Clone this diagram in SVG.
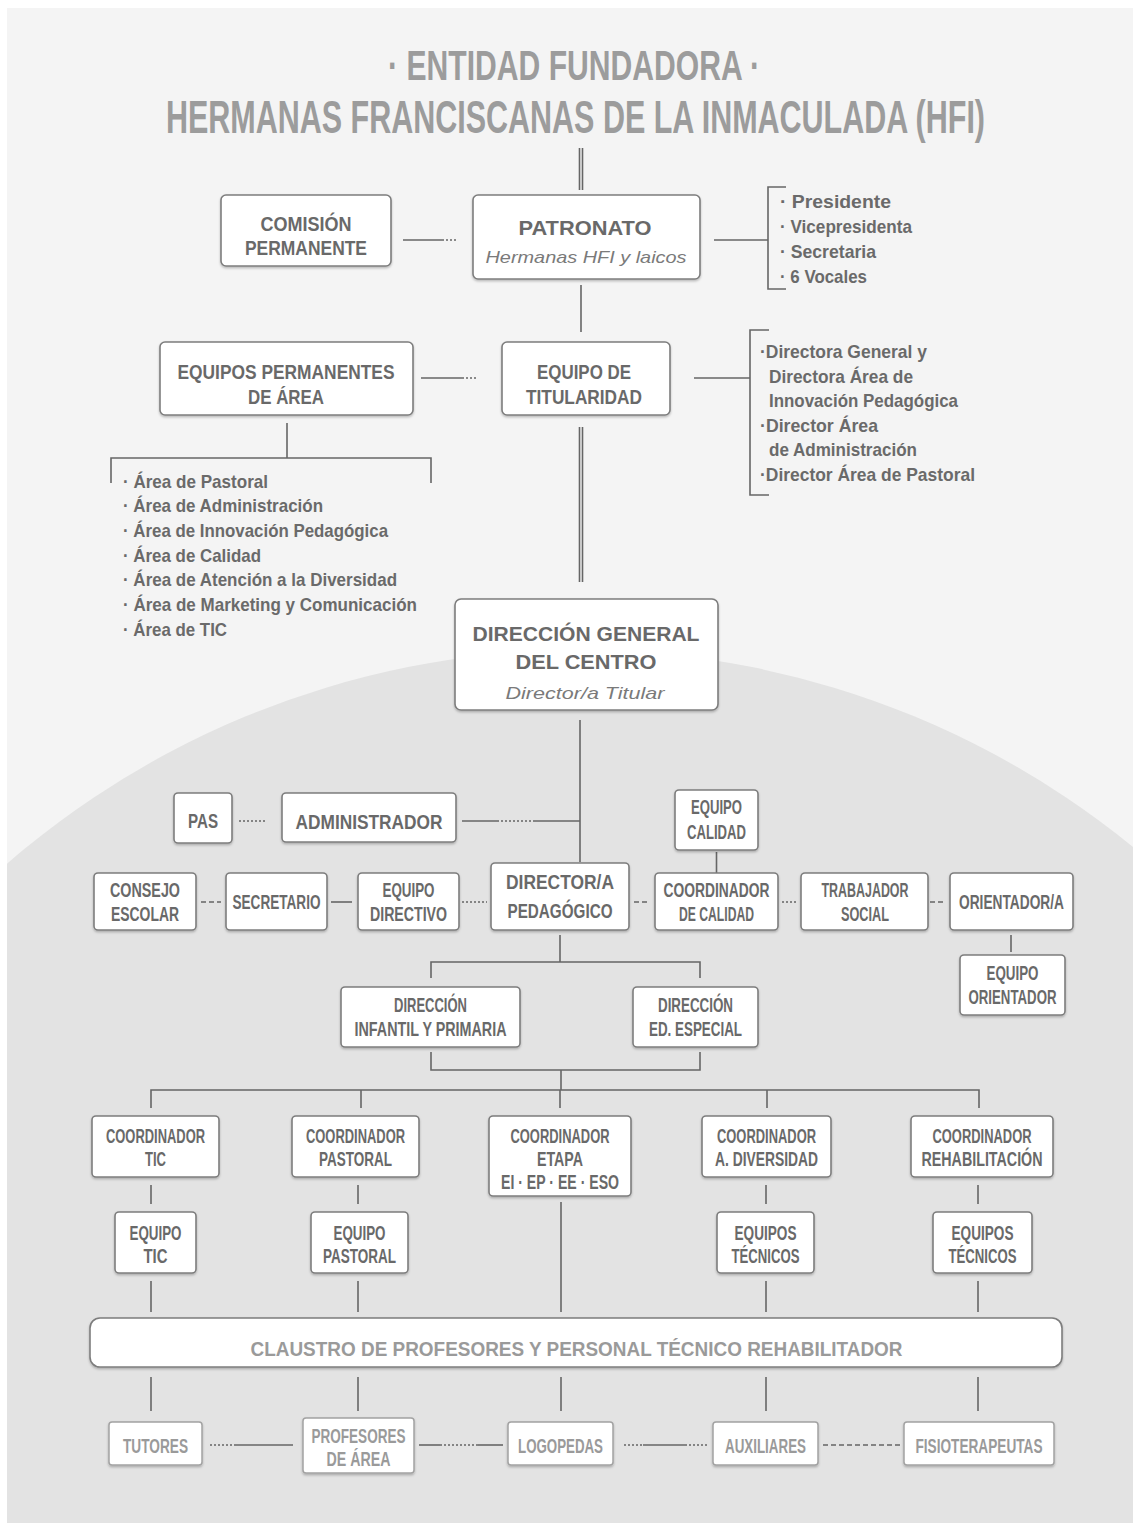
<svg xmlns="http://www.w3.org/2000/svg" width="1133" height="1523" viewBox="0 0 1133 1523">
<defs>
<clipPath id="panel"><rect x="7" y="8" width="1126" height="1515"/></clipPath>
<filter id="sh" x="-10%" y="-10%" width="120%" height="130%"><feDropShadow dx="0" dy="1.5" stdDeviation="1" flood-color="#000" flood-opacity="0.25"/></filter>
<style>
.box{fill:#fff;stroke:#7d7d7d;stroke-width:1.6;filter:url(#sh)}
.boxl{fill:#fff;stroke:#a2a2a2;stroke-width:1.5;filter:url(#sh)}
.t{font-family:"Liberation Sans",Arial,sans-serif;font-weight:bold;fill:#696969;text-anchor:middle;font-size:21px}
.tl{fill:#9a9a9a}
.it{font-family:"Liberation Sans",Arial,sans-serif;font-style:italic;font-weight:normal;fill:#7a7a7a;text-anchor:middle;font-size:17px}
.title{font-family:"Liberation Sans",Arial,sans-serif;font-weight:bold;fill:#9c9c9c;text-anchor:middle}
.lst{font-family:"Liberation Sans",Arial,sans-serif;font-weight:bold;fill:#6a6a6a;font-size:19px}
.ln{stroke:#666;stroke-width:1.6;fill:none}
.dot{stroke-dasharray:2 2}
.dsh{stroke-dasharray:5 3}
</style>
</defs>
<rect width="1133" height="1523" fill="#ffffff"/>
<g clip-path="url(#panel)">
<rect x="7" y="8" width="1126" height="1515" fill="#f4f4f4"/>
<circle cx="580" cy="1525" r="875" fill="#e3e3e3"/>
<rect x="0" y="1100" width="1133" height="423" fill="#e3e3e3"/>
</g>

<g id="title">
<text class="title" transform="translate(574,80) scale(0.8,1)" font-size="43" textLength="465" lengthAdjust="spacingAndGlyphs">· ENTIDAD FUNDADORA ·</text>
<text class="title" transform="translate(575.5,133) scale(0.75,1)" font-size="47" textLength="1092" lengthAdjust="spacingAndGlyphs">HERMANAS FRANCISCANAS DE LA INMACULADA (HFI)</text>
</g>

<g id="connectors">
<path class="ln" d="M579.5,148V190M582.5,148V190" stroke-width="1.3"/>
<path class="ln" d="M581,285V332"/>
<path class="ln" d="M403,240H442"/><path class="ln dot" d="M442,240H458"/>
<path class="ln" d="M714,240H768M786,187H768V289H786"/>
<path class="ln" d="M421,378H462"/><path class="ln dot" d="M462,378H476"/>
<path class="ln" d="M694,378H750M769,330H750V495H769"/>
<path class="ln" d="M287,423V458M111,483V458H431V483"/>
<path class="ln" d="M579.5,427V582M582.5,427V582" stroke-width="1.3"/>
<path class="ln" d="M580,720V862"/>
<path class="ln dot" d="M239,821H267"/>
<path class="ln" d="M462,821H497"/><path class="ln dot" d="M497,821H535"/><path class="ln" d="M535,821H580"/>
<path class="ln" d="M716.5,852V873"/>
<path class="ln dsh" d="M201,902H221"/>
<path class="ln" d="M331,902H352"/>
<path class="ln dot" d="M462,902H487"/>
<path class="ln dsh" d="M634,902H648"/>
<path class="ln dot" d="M782,902H796"/>
<path class="ln dsh" d="M930,902H946"/>
<path class="ln" d="M1011,935V952"/>
<path class="ln" d="M560,935V962M431,978V962H700V978"/>
<path class="ln" d="M431,1052V1070H700V1052M561,1070V1090"/>
<path class="ln" d="M151,1108V1090H979V1108M361,1090V1108M560,1090V1108M767,1090V1108"/>
<path class="ln" d="M151,1185V1204M358,1185V1204M766,1185V1204M978,1185V1204"/>
<path class="ln" d="M151,1281V1312M358,1281V1312M766,1281V1312M978,1281V1312M561,1202V1312"/>
<path class="ln" d="M151,1377V1411M358,1377V1411M561,1377V1411M766,1377V1411M978,1377V1411"/>
<path class="ln dot" d="M210,1445H236"/><path class="ln" d="M236,1445H293"/>
<path class="ln" d="M419,1445H440"/><path class="ln dot" d="M440,1445H478"/><path class="ln" d="M478,1445H503"/>
<path class="ln dot" d="M624,1445H643"/><path class="ln" d="M643,1445H685"/><path class="ln dot" d="M685,1445H707"/>
<path class="ln dsh" d="M823,1445H901"/>
</g>

<g id="list-patronato">
<text class="lst" x="780" y="208" textLength="111" lengthAdjust="spacingAndGlyphs">· Presidente</text>
<text class="lst" x="780" y="233" textLength="132" lengthAdjust="spacingAndGlyphs">· Vicepresidenta</text>
<text class="lst" x="780" y="258" textLength="96" lengthAdjust="spacingAndGlyphs">· Secretaria</text>
<text class="lst" x="780" y="283" textLength="87" lengthAdjust="spacingAndGlyphs">· 6 Vocales</text>
</g>
<g id="list-titularidad">
<text class="lst" x="760" y="358" textLength="167" lengthAdjust="spacingAndGlyphs">·Directora General y</text>
<text class="lst" x="769" y="383" textLength="144" lengthAdjust="spacingAndGlyphs">Directora Área de</text>
<text class="lst" x="769" y="407" textLength="189" lengthAdjust="spacingAndGlyphs">Innovación Pedagógica</text>
<text class="lst" x="760" y="432" textLength="118" lengthAdjust="spacingAndGlyphs">·Director Área</text>
<text class="lst" x="769" y="456" textLength="148" lengthAdjust="spacingAndGlyphs">de Administración</text>
<text class="lst" x="760" y="481" textLength="215" lengthAdjust="spacingAndGlyphs">·Director Área de Pastoral</text>
</g>
<g id="list-areas">
<text class="lst" x="123" y="488" textLength="145" lengthAdjust="spacingAndGlyphs">· Área de Pastoral</text>
<text class="lst" x="123" y="512" textLength="200" lengthAdjust="spacingAndGlyphs">· Área de Administración</text>
<text class="lst" x="123" y="537" textLength="265" lengthAdjust="spacingAndGlyphs">· Área de Innovación Pedagógica</text>
<text class="lst" x="123" y="562" textLength="138" lengthAdjust="spacingAndGlyphs">· Área de Calidad</text>
<text class="lst" x="123" y="586" textLength="274" lengthAdjust="spacingAndGlyphs">· Área de Atención a la Diversidad</text>
<text class="lst" x="123" y="611" textLength="294" lengthAdjust="spacingAndGlyphs">· Área de Marketing y Comunicación</text>
<text class="lst" x="123" y="636" textLength="104" lengthAdjust="spacingAndGlyphs">· Área de TIC</text>
</g>

<g id="comision"><rect class="box" x="221" y="195" width="170" height="71" rx="5"/>
<text class="t" x="306" y="231" font-size="23" textLength="91" lengthAdjust="spacingAndGlyphs">COMISIÓN</text>
<text class="t" x="306" y="255" font-size="23" textLength="122" lengthAdjust="spacingAndGlyphs">PERMANENTE</text></g>
<g id="patronato"><rect class="box" x="473" y="195" width="227" height="84" rx="5"/>
<text class="t" x="585" y="235" font-size="31" textLength="133" lengthAdjust="spacingAndGlyphs">PATRONATO</text>
<text class="it" x="586" y="263" textLength="201" lengthAdjust="spacingAndGlyphs">Hermanas HFI y laicos</text></g>
<g id="equipos-permanentes"><rect class="box" x="160" y="342" width="253" height="73" rx="5"/>
<text class="t" x="286" y="379" font-size="24" textLength="217" lengthAdjust="spacingAndGlyphs">EQUIPOS PERMANENTES</text>
<text class="t" x="286" y="404" font-size="24" textLength="76" lengthAdjust="spacingAndGlyphs">DE ÁREA</text></g>
<g id="equipo-titularidad"><rect class="box" x="502" y="342" width="168" height="73" rx="5"/>
<text class="t" x="584" y="379" font-size="24" textLength="94" lengthAdjust="spacingAndGlyphs">EQUIPO DE</text>
<text class="t" x="584" y="404" font-size="24" textLength="116" lengthAdjust="spacingAndGlyphs">TITULARIDAD</text></g>
<g id="direccion-general"><rect class="box" x="455" y="599" width="263" height="111" rx="6"/>
<text class="t" x="586" y="641" font-size="31" textLength="227" lengthAdjust="spacingAndGlyphs">DIRECCIÓN GENERAL</text>
<text class="t" x="586" y="669" font-size="31" textLength="141" lengthAdjust="spacingAndGlyphs">DEL CENTRO</text>
<text class="it" x="585" y="699" fill="#8a8a8a" textLength="159" lengthAdjust="spacingAndGlyphs">Director/a Titular</text></g>

<g id="pas"><rect class="box" x="174" y="793" width="58" height="50" rx="4"/>
<text class="t" x="203" y="828" font-size="22" textLength="30" lengthAdjust="spacingAndGlyphs">PAS</text></g>
<g id="administrador"><rect class="box" x="282" y="793" width="174" height="49" rx="4"/>
<text class="t" x="369" y="829" font-size="25" textLength="147" lengthAdjust="spacingAndGlyphs">ADMINISTRADOR</text></g>
<g id="equipo-calidad"><rect class="box" x="675" y="790" width="83" height="60" rx="4"/>
<text class="t" x="716.5" y="814" font-size="19" textLength="51" lengthAdjust="spacingAndGlyphs">EQUIPO</text>
<text class="t" x="716.5" y="839" font-size="19" textLength="59" lengthAdjust="spacingAndGlyphs">CALIDAD</text></g>
<g id="consejo-escolar"><rect class="box" x="94" y="873" width="102" height="57" rx="4"/>
<text class="t" x="145" y="897" textLength="70" lengthAdjust="spacingAndGlyphs">CONSEJO</text>
<text class="t" x="145" y="921" textLength="68" lengthAdjust="spacingAndGlyphs">ESCOLAR</text></g>
<g id="secretario"><rect class="box" x="226" y="873" width="101" height="57" rx="4"/>
<text class="t" x="276.5" y="909" textLength="88" lengthAdjust="spacingAndGlyphs">SECRETARIO</text></g>
<g id="equipo-directivo"><rect class="box" x="358" y="873" width="101" height="57" rx="4"/>
<text class="t" x="408.5" y="897" textLength="52" lengthAdjust="spacingAndGlyphs">EQUIPO</text>
<text class="t" x="408.5" y="921" textLength="77" lengthAdjust="spacingAndGlyphs">DIRECTIVO</text></g>
<g id="director-pedagogico"><rect class="box" x="491" y="863" width="138" height="67" rx="4"/>
<text class="t" x="560" y="889" font-size="24" textLength="108" lengthAdjust="spacingAndGlyphs">DIRECTOR/A</text>
<text class="t" x="560" y="918" font-size="24" textLength="105" lengthAdjust="spacingAndGlyphs">PEDAGÓGICO</text></g>
<g id="coordinador-calidad"><rect class="box" x="655" y="873" width="123" height="57" rx="4"/>
<text class="t" x="716.5" y="897" textLength="106" lengthAdjust="spacingAndGlyphs">COORDINADOR</text>
<text class="t" x="716.5" y="921" textLength="75" lengthAdjust="spacingAndGlyphs">DE CALIDAD</text></g>
<g id="trabajador-social"><rect class="box" x="801" y="873" width="127" height="57" rx="4"/>
<text class="t" x="865" y="897" textLength="87" lengthAdjust="spacingAndGlyphs">TRABAJADOR</text>
<text class="t" x="865" y="921" textLength="48" lengthAdjust="spacingAndGlyphs">SOCIAL</text></g>
<g id="orientador"><rect class="box" x="950" y="873" width="123" height="57" rx="4"/>
<text class="t" x="1011.5" y="909" textLength="105" lengthAdjust="spacingAndGlyphs">ORIENTADOR/A</text></g>
<g id="equipo-orientador"><rect class="box" x="960" y="955" width="105" height="60" rx="4"/>
<text class="t" x="1012.5" y="980" textLength="52" lengthAdjust="spacingAndGlyphs">EQUIPO</text>
<text class="t" x="1012.5" y="1004" textLength="88" lengthAdjust="spacingAndGlyphs">ORIENTADOR</text></g>
<g id="direccion-infantil"><rect class="box" x="341" y="987" width="179" height="60" rx="4"/>
<text class="t" x="430.5" y="1012" textLength="73" lengthAdjust="spacingAndGlyphs">DIRECCIÓN</text>
<text class="t" x="430.5" y="1036" textLength="152" lengthAdjust="spacingAndGlyphs">INFANTIL Y PRIMARIA</text></g>
<g id="direccion-especial"><rect class="box" x="633" y="987" width="125" height="60" rx="4"/>
<text class="t" x="695.5" y="1012" textLength="75" lengthAdjust="spacingAndGlyphs">DIRECCIÓN</text>
<text class="t" x="695.5" y="1036" textLength="93" lengthAdjust="spacingAndGlyphs">ED. ESPECIAL</text></g>

<g id="coord-tic"><rect class="box" x="92" y="1116" width="127" height="61" rx="4"/>
<text class="t" x="155.5" y="1143" textLength="99" lengthAdjust="spacingAndGlyphs">COORDINADOR</text>
<text class="t" x="155.5" y="1166" textLength="21" lengthAdjust="spacingAndGlyphs">TIC</text></g>
<g id="coord-pastoral"><rect class="box" x="292" y="1116" width="127" height="61" rx="4"/>
<text class="t" x="355.5" y="1143" textLength="99" lengthAdjust="spacingAndGlyphs">COORDINADOR</text>
<text class="t" x="355.5" y="1166" textLength="73" lengthAdjust="spacingAndGlyphs">PASTORAL</text></g>
<g id="coord-etapa"><rect class="box" x="489" y="1116" width="142" height="80" rx="4"/>
<text class="t" x="560" y="1143" textLength="99" lengthAdjust="spacingAndGlyphs">COORDINADOR</text>
<text class="t" x="560" y="1166" textLength="46" lengthAdjust="spacingAndGlyphs">ETAPA</text>
<text class="t" x="560" y="1189" textLength="118" lengthAdjust="spacingAndGlyphs">EI · EP · EE · ESO</text></g>
<g id="coord-diversidad"><rect class="box" x="702" y="1116" width="129" height="61" rx="4"/>
<text class="t" x="766.5" y="1143" textLength="99" lengthAdjust="spacingAndGlyphs">COORDINADOR</text>
<text class="t" x="766.5" y="1166" textLength="103" lengthAdjust="spacingAndGlyphs">A. DIVERSIDAD</text></g>
<g id="coord-rehabilitacion"><rect class="box" x="911" y="1116" width="142" height="61" rx="4"/>
<text class="t" x="982" y="1143" textLength="99" lengthAdjust="spacingAndGlyphs">COORDINADOR</text>
<text class="t" x="982" y="1166" textLength="121" lengthAdjust="spacingAndGlyphs">REHABILITACIÓN</text></g>

<g id="equipo-tic"><rect class="box" x="115" y="1212" width="81" height="61" rx="4"/>
<text class="t" x="155.5" y="1240" textLength="52" lengthAdjust="spacingAndGlyphs">EQUIPO</text>
<text class="t" x="155.5" y="1263" textLength="24" lengthAdjust="spacingAndGlyphs">TIC</text></g>
<g id="equipo-pastoral"><rect class="box" x="311" y="1212" width="97" height="61" rx="4"/>
<text class="t" x="359.5" y="1240" textLength="52" lengthAdjust="spacingAndGlyphs">EQUIPO</text>
<text class="t" x="359.5" y="1263" textLength="73" lengthAdjust="spacingAndGlyphs">PASTORAL</text></g>
<g id="equipos-tecnicos-1"><rect class="box" x="717" y="1212" width="97" height="61" rx="4"/>
<text class="t" x="765.5" y="1240" textLength="62" lengthAdjust="spacingAndGlyphs">EQUIPOS</text>
<text class="t" x="765.5" y="1263" textLength="68" lengthAdjust="spacingAndGlyphs">TÉCNICOS</text></g>
<g id="equipos-tecnicos-2"><rect class="box" x="933" y="1212" width="99" height="61" rx="4"/>
<text class="t" x="982.5" y="1240" textLength="62" lengthAdjust="spacingAndGlyphs">EQUIPOS</text>
<text class="t" x="982.5" y="1263" textLength="68" lengthAdjust="spacingAndGlyphs">TÉCNICOS</text></g>

<g id="claustro"><rect class="box" x="90" y="1318" width="972" height="49" rx="10"/>
<text class="t tl" x="576.5" y="1356" font-size="29" textLength="652" lengthAdjust="spacingAndGlyphs">CLAUSTRO DE PROFESORES Y PERSONAL TÉCNICO REHABILITADOR</text></g>

<g id="tutores"><rect class="boxl" x="109" y="1422" width="93" height="43" rx="3"/>
<text class="t tl" x="155.5" y="1453" textLength="65" lengthAdjust="spacingAndGlyphs">TUTORES</text></g>
<g id="profesores-area"><rect class="boxl" x="303" y="1418" width="111" height="55" rx="3"/>
<text class="t tl" x="358.5" y="1443" textLength="94" lengthAdjust="spacingAndGlyphs">PROFESORES</text>
<text class="t tl" x="358.5" y="1466" textLength="64" lengthAdjust="spacingAndGlyphs">DE ÁREA</text></g>
<g id="logopedas"><rect class="boxl" x="508" y="1422" width="105" height="43" rx="3"/>
<text class="t tl" x="560.5" y="1453" textLength="85" lengthAdjust="spacingAndGlyphs">LOGOPEDAS</text></g>
<g id="auxiliares"><rect class="boxl" x="713" y="1422" width="105" height="43" rx="3"/>
<text class="t tl" x="765.5" y="1453" textLength="81" lengthAdjust="spacingAndGlyphs">AUXILIARES</text></g>
<g id="fisioterapeutas"><rect class="boxl" x="904" y="1422" width="150" height="43" rx="3"/>
<text class="t tl" x="979" y="1453" textLength="127" lengthAdjust="spacingAndGlyphs">FISIOTERAPEUTAS</text></g>
</svg>
